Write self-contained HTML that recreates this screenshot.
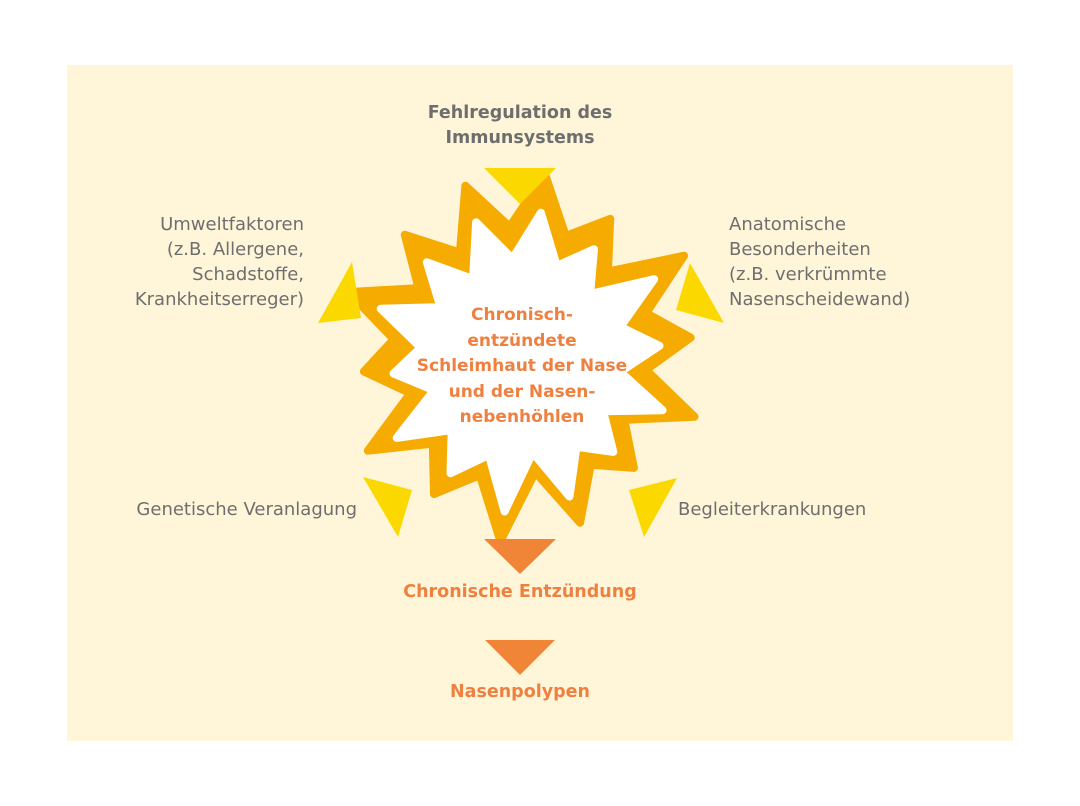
<!DOCTYPE html>
<html><head><meta charset="utf-8"><style>
html,body{margin:0;padding:0;background:#fff;}
body{width:1080px;height:806px;position:relative;overflow:hidden;font-family:"DejaVu Sans","Liberation Sans",sans-serif;}
.bg{position:absolute;left:67px;top:65px;width:946px;height:676px;background:#fff6d9;}
.t{position:absolute;font-size:18px;line-height:25px;color:#6e6e6e;white-space:nowrap;}
.b{font-weight:bold;font-size:17.5px;}
.o{color:#ee8040;}
svg{position:absolute;left:0;top:0;}
</style></head><body>
<div class="bg"></div>
<svg width="1080" height="806" viewBox="0 0 1080 806">
<polygon id="outer" fill="#f6ab00" stroke="#f6ab00" stroke-width="8" stroke-linejoin="round"/>
<polygon id="inner" fill="#ffffff" stroke="#ffffff" stroke-width="8" stroke-linejoin="round"/>
<g fill="#fbd900">
<polygon points="484,168 556,168 520,204"/>
<polygon points="352,262 318,323 361,318"/>
<polygon points="690,263 676,310 724,323"/>
<polygon points="363,477 412,490 398,537"/>
<polygon points="629,490 677,478 644,537"/>
</g>
<g fill="#f08538">
<polygon points="484,539 556,539 520,574"/>
<polygon points="485,640 555,640 520,675"/>
</g>
</svg>
<script>
function star(cx,cy,n,ro,ri,vo,vi,rot){
 var p=[];
 for(var i=0;i<n;i++){
  var a=rot+2*Math.PI*i/n, b=a+Math.PI/n;
  var r=ro*(1+vo[i%vo.length]), s=ri*(1+vi[i%vi.length]);
  p.push((cx+r*Math.cos(a)).toFixed(1)+","+(cy+r*Math.sin(a)).toFixed(1));
  p.push((cx+s*Math.cos(b)).toFixed(1)+","+(cy+s*Math.sin(b)).toFixed(1));
 }
 return p.join(" ");
}
var vo=[0.06,-0.06,0.1,-0.02,0.06,-0.08,0.03,0.09,-0.04,0.06,-0.07,0.08,-0.02,0.04];
var vi=[0.02,-0.04,0.05,0.0,-0.03,0.04,-0.05,0.03];
document.getElementById('outer').setAttribute('points',star(523,355,14,172,124,vo,vi,-1.45));
document.getElementById('inner').setAttribute('points',star(523,360,14,140,98,vo,vi,-1.45));
</script>
<div class="t b" style="left:0;width:1040px;text-align:center;top:101px;">Fehlregulation des<br>Immunsystems</div>
<div class="t" style="right:776px;text-align:right;top:212px;">Umweltfaktoren<br>(z.B. Allergene,<br>Schadstoffe,<br>Krankheitserreger)</div>
<div class="t" style="left:729px;top:212px;">Anatomische<br>Besonderheiten<br>(z.B. verkrümmte<br>Nasenscheidewand)</div>
<div class="t" style="right:723px;text-align:right;top:497px;">Genetische Veranlagung</div>
<div class="t" style="left:678px;top:497px;">Begleiterkrankungen</div>
<div class="t b o" style="left:0;width:1044px;text-align:center;top:303px;line-height:25.5px;font-size:17px;">Chronisch-<br>entzündete<br>Schleimhaut der Nase<br>und der Nasen-<br>nebenhöhlen</div>
<div class="t b o" style="left:0;width:1040px;text-align:center;top:580px;">Chronische Entzündung</div>
<div class="t b o" style="left:0;width:1040px;text-align:center;top:680px;">Nasenpolypen</div>
</body></html>
